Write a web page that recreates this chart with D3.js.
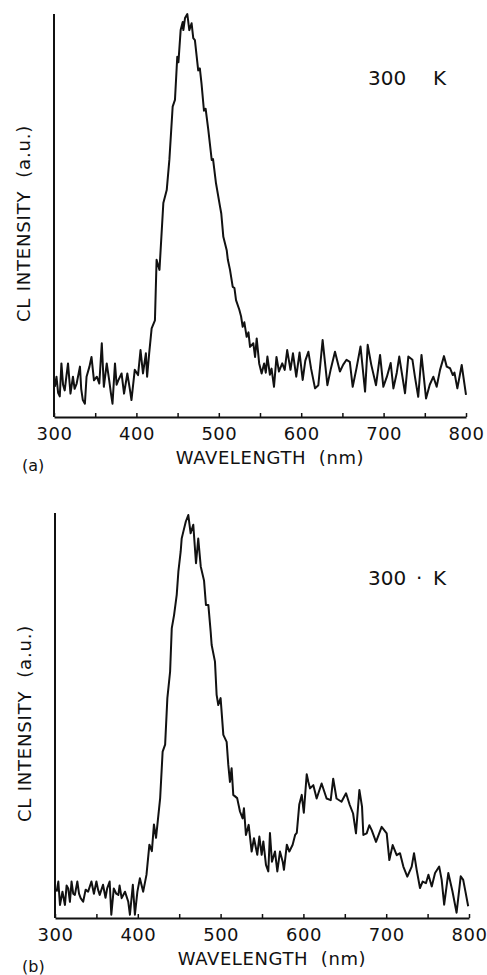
<!DOCTYPE html>
<html>
<head>
<meta charset="utf-8">
<script src="https://cdn.jsdelivr.net/npm/d3@7"></script>
<style>
  body { margin: 0; background: #fff; }
  text { font-family: "DejaVu Sans", sans-serif; fill: #111; }
</style>
</head>
<body>
<div id="graph"></div>
<script>
var w = 487;
var h = 975;

// panel (a): wavelength (nm) and CL intensity (a.u., peak = 100)
var waveA = [301, 303, 305, 307, 309, 311, 313, 315, 317, 320, 323, 325, 327.5, 331.5, 333, 335, 337.5, 339.5, 343, 345.5,
    348.5, 352, 355, 358, 360.5, 364, 367, 369, 371, 374, 376, 378, 382, 385, 389, 392, 394, 398, 402, 405,
    408, 411.5, 413, 415.5, 418.5, 422.5, 424.5, 428, 432.7, 436.8, 440, 444, 446.8, 449.6, 451, 453.7, 456.2, 457, 459, 461.8,
    464.2, 467, 469, 471, 475, 477, 479, 482, 484, 487.3, 491.4, 493, 496.6, 501.5, 503, 505.5, 509.6, 511, 513.6, 516.9,
    519, 520.9, 524.9, 527, 529, 531, 533.8, 536, 537.9, 541.9, 544, 546, 549, 552, 555, 557, 559, 562, 564, 567,
    570, 573, 577, 580, 583, 587, 590, 594, 598, 601.8, 605, 608.7, 612, 616.8, 620.8, 626, 631.8, 636, 641, 647,
    651, 655, 659, 662.5, 667, 672, 677.5, 680.7, 685, 690.8, 695.7, 699.7, 704, 708.6, 711.9, 716, 719, 726, 730, 735,
    738, 742, 746, 751.5, 756, 760.4, 764.4, 768.5, 773.3, 776.6, 780.6, 784, 786, 789.5, 794.8, 800];
var intensityA = [7.5, 10, 6, 5.1, 13.3, 8, 6.6, 10, 13.3, 5.8, 10, 7, 8.3, 12.5, 7, 4.2, 3.3, 10, 12.5, 14.9,
    9.1, 10, 8.3, 18.3, 7.5, 13.3, 9.1, 6, 3.3, 13.3, 8, 9.1, 10.8, 5.8, 10.8, 7, 4.2, 11.7, 10.4, 16.6,
    10.8, 15.8, 10, 15.8, 22, 24, 39, 36.5, 53.1, 56.3, 63.8, 77, 78.7, 89.4, 88, 96, 98, 96, 99, 100,
    96, 97.7, 94, 93.5, 86, 86.5, 82.8, 76, 76.5, 71.2, 63.8, 64, 58, 52.2, 50.5, 44.7, 41.4, 39, 36.5, 32.3,
    32, 29, 26.6, 25, 22.4, 23.5, 19.9, 21, 17.4, 18.3, 14.9, 19.5, 13.3, 10.8, 13.3, 11, 15, 10.5, 12, 7.5,
    14.9, 11.3, 13.3, 11.7, 16.6, 11.7, 15.8, 10, 16, 9.2, 14, 16.2, 12, 7.1, 7.9, 19.1, 7.9, 12, 16.2, 11.3,
    13, 14.2, 13.7, 7.5, 12, 17.5, 6.3, 17.9, 13, 7.9, 15.4, 7.5, 10, 13.4, 7.1, 11, 15, 5.9, 15, 14.2,
    10, 5, 15.4, 4.6, 8, 10, 7.5, 11.7, 15.1, 12.5, 12.1, 10.4, 11, 7.1, 12.9, 5.5];

// panel (b)
var waveB = [302, 304, 306, 309, 312, 314, 316, 318, 320, 322, 324, 327, 329, 331, 334, 337, 340, 344, 347, 350,
    352, 354, 358, 361, 363, 366, 368, 371, 374, 376.5, 378, 380.5, 384.5, 388.5, 390.5, 394, 396.5, 399.5, 402.5, 406.5,
    410.5, 414, 417, 419.5, 422, 427, 430, 433, 435.7, 439, 441, 443.8, 447, 449, 451.8, 453, 455, 458, 461, 463.8,
    467, 470.3, 473, 476, 480, 482.3, 485.2, 488, 489.2, 493.2, 495.2, 497.2, 500, 503.3, 507.3, 509.3, 511.3, 513.3, 515.3, 520,
    523.4, 526.6, 528.2, 530.6, 533.9, 537.5, 540.3, 544.3, 546.8, 549.6, 551.6, 554.8, 557.6, 559.6, 562, 565.7, 568.5, 571.7, 575, 576.5,
    580, 583, 587, 590, 592, 595, 598, 600.5, 604, 606, 608, 612, 616, 622, 628, 633, 636, 640, 646, 651.5,
    656, 660, 663.5, 667.6, 670.8, 672.4, 676.4, 679.6, 682.5, 687.7, 694.5, 700.6, 703.8, 707.8, 712.7, 716.7, 720.7, 725.5, 730.8, 733.6,
    736.8, 740.8, 744, 748, 751, 755, 759, 764, 767, 770, 775, 780, 785, 790, 793, 796, 799];
var intensityB = [6.5, 9, 3.2, 6.5, 3.2, 8, 7.3, 4, 9, 6, 5.7, 9, 6, 4.9, 4, 7, 6.5, 9, 6, 9,
    7, 5.7, 8.2, 5, 7.3, 9, 0.8, 7.3, 6, 5.7, 8, 4.9, 6.5, 4, 0.8, 8.2, 0.8, 6.5, 9.8, 6.5,
    10.7, 18.1, 16.5, 23.1, 19.8, 29.6, 41.1, 42.8, 54.3, 60.8, 71.5, 74.8, 79.8, 85.5, 90.5, 93.7, 95.4, 97.9, 99.5, 95,
    97.1, 87.6, 93.7, 86.8, 83.3, 77.3, 77.3, 70.7, 67.4, 63.3, 55.1, 52.6, 54.3, 45.2, 43.5, 37.8, 33.6, 37, 30.4, 29.6,
    26.3, 24.6, 27.1, 20.5, 23, 16.4, 19.7, 15.6, 20.1, 15.6, 18.9, 13.1, 11.5, 21, 13.9, 16.4, 11.5, 16.4, 13.9, 11.9,
    18.1, 16.4, 18.1, 20.5, 21, 28, 30.4, 26, 35.5, 33.6, 32, 32.8, 29.5, 33.2, 29.5, 29.1, 34.4, 29.5, 28.7, 30.8,
    27.9, 25.8, 20.9, 31.6, 27.5, 20.5, 20.9, 22.9, 21.7, 18.8, 22.5, 20.9, 14.3, 18, 15.5, 16, 12.7, 10.2, 12.7, 16,
    11.9, 7.4, 9, 8.6, 10.7, 7.8, 11.1, 12.7, 9.4, 3.3, 11.1, 6.6, 1.3, 10.3, 9.4, 6.2, 2.9];

var xTicks = [300, 350, 400, 450, 500, 550, 600, 650, 700, 750, 800];
var xTickLabels = ["300", "", "400", "", "500", "", "600", "", "700", "", "800"];

var svg = d3.select("#graph")
    .append("svg")
    .attr("width", w)
    .attr("height", h);

function drawPanel(waves, values, box, tag, tempParts) {
    var xScale = d3.scaleLinear()
        .domain([300, 800])
        .range([box.left, box.right]);
    var yScale = d3.scaleLinear()
        .domain([0, 100])
        .range([box.bottom, box.top]);

    var g = svg.append("g");

    // x axis, ticks point inward
    var xAxis = d3.axisBottom(xScale)
        .tickValues(xTicks)
        .tickSize(-4)
        .tickSizeOuter(0)
        .tickFormat(function (d, i) { return xTickLabels[i]; });

    var ax = g.append("g")
        .attr("transform", "translate(0," + box.bottom + ")")
        .call(xAxis);
    ax.select(".domain").attr("stroke", "#111").attr("stroke-width", 2);
    ax.selectAll(".tick line").attr("stroke", "#111").attr("stroke-width", 1.5);
    ax.selectAll(".tick text")
        .attr("y", 10)
        .attr("font-size", "18px")
        .attr("font-family", "DejaVu Sans")
        .attr("letter-spacing", "0.5px")
        .attr("fill", "#111");

    // y axis, just the line
    g.append("line")
        .attr("x1", xScale(300)).attr("x2", xScale(300))
        .attr("y1", box.top).attr("y2", box.bottom)
        .attr("stroke", "#111")
        .attr("stroke-width", 2);

    var line = d3.line()
        .x(function (d, i) { return xScale(waves[i]); })
        .y(function (d) { return yScale(d); });

    g.append("path")
        .datum(values)
        .attr("d", line)
        .attr("fill", "none")
        .attr("stroke", "#111")
        .attr("stroke-width", 2)
        .attr("stroke-linejoin", "round");

    g.append("text")
        .attr("x", (box.left + box.right) / 2 + 10)
        .attr("y", box.bottom + 47)
        .attr("text-anchor", "middle")
        .attr("font-size", "18px")
        .attr("letter-spacing", "0.6px")
        .style("white-space", "pre")
        .text("WAVELENGTH  (nm)");

    g.append("text")
        .attr("transform", "translate(" + (box.left - 24) + "," + ((box.top + box.bottom) / 2 + 8) + ") rotate(-90)")
        .attr("text-anchor", "middle")
        .attr("font-size", "18px")
        .attr("letter-spacing", "0.8px")
        .style("white-space", "pre")
        .text("CL INTENSITY  (a.u.)");

    g.append("text")
        .attr("x", 22)
        .attr("y", box.bottom + 54)
        .attr("font-size", "16px")
        .attr("font-family", "Liberation Sans")
        .text(tag);

    var t = g.append("text")
        .attr("y", box.top + tempParts.dy)
        .attr("font-size", "20px");
    t.append("tspan").attr("x", 368).text("300");
    if (tempParts.dot) {
        t.append("tspan").attr("x", 416).text("·");
    }
    t.append("tspan").attr("x", 433).text("K");
}

drawPanel(waveA, intensityA, { left: 54, right: 466, top: 14, bottom: 417 }, "(a)", { dy: 71, dot: false });
drawPanel(waveB, intensityB, { left: 55, right: 469, top: 513, bottom: 918 }, "(b)", { dy: 72, dot: true });
</script>
</body>
</html>
